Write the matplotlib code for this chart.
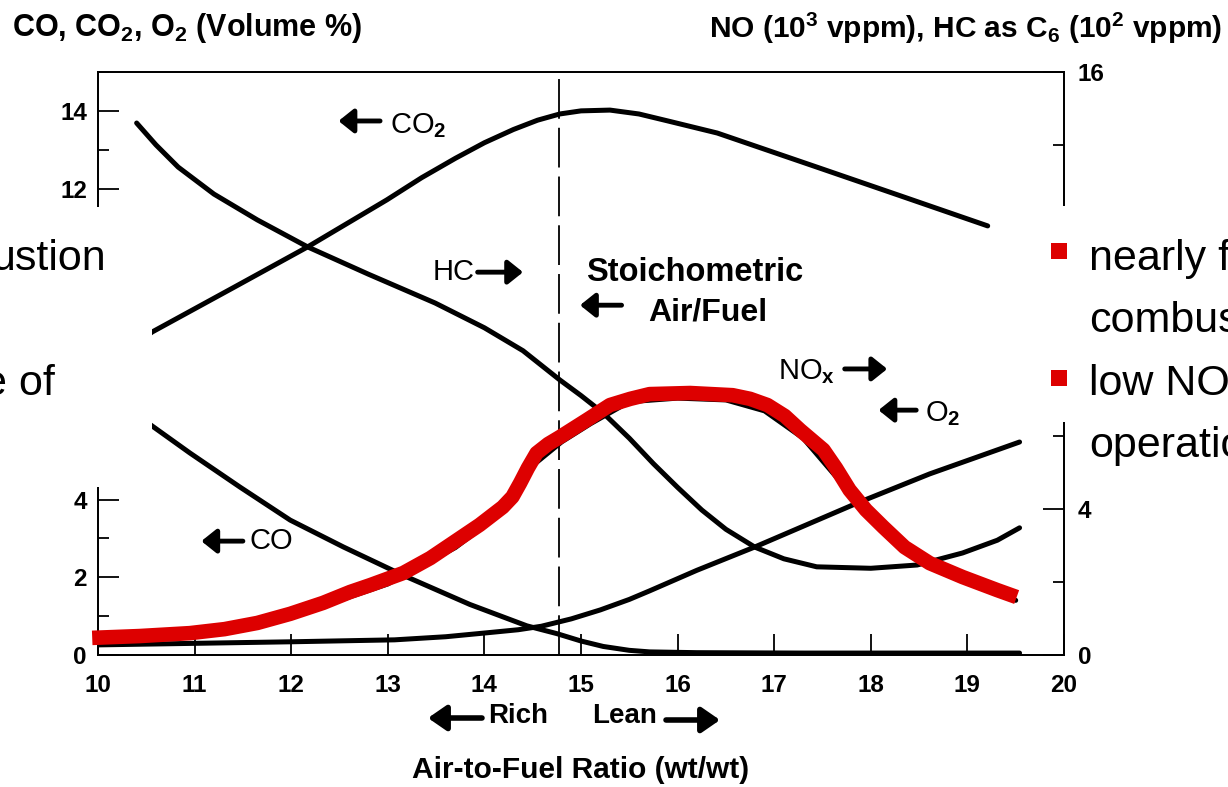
import matplotlib
matplotlib.use('Agg')
import matplotlib.pyplot as plt
from matplotlib.patches import Rectangle
from matplotlib.ticker import MultipleLocator

# readings, x = air-to-fuel ratio (wt/wt)
# left axis: volume %
co_x = [10.5, 10.95, 11.47, 11.99, 12.54, 13.16, 13.85, 14.44, 14.75, 15.0, 15.23, 15.5, 15.71, 16.2, 17.3, 19.54]
co_y = [6.0, 5.2, 4.32, 3.47, 2.78, 2.05, 1.30, 0.75, 0.55, 0.36, 0.22, 0.12, 0.08, 0.06, 0.05, 0.05]

co2_x = [10.4, 10.56, 11.4, 12.17, 12.99, 13.35, 13.70, 14.0, 14.3, 14.55, 14.78, 15.0, 15.3,
         15.6, 15.9, 16.41, 17.41, 18.30, 19.21]
co2_y = [8.0, 8.31, 9.45, 10.50, 11.71, 12.28, 12.78, 13.18, 13.52, 13.76, 13.92, 14.0, 14.02,
         13.92, 13.74, 13.43, 12.58, 11.82, 11.04]

o2_x = [10.0, 11.0, 12.0, 13.07, 13.6, 14.02, 14.35, 14.59, 14.9, 15.2, 15.5, 15.71, 16.2, 16.80,
        17.86, 18.61, 19.54]
o2_y = [0.26, 0.30, 0.34, 0.39, 0.47, 0.57, 0.65, 0.74, 0.93, 1.16, 1.43, 1.65, 2.18, 2.78,
        3.91, 4.66, 5.48]

# right axis: NO in 10^3 vppm, HC in 10^2 vppm
hc_x = [10.40, 10.6, 10.83, 11.2, 11.65, 12.17, 12.8, 13.49, 14.0, 14.4, 14.78, 15.0, 15.23,
        15.5, 15.75, 16.0, 16.25, 16.5, 16.8, 17.1, 17.44, 18.0, 18.48, 18.95, 19.31, 19.54]
hc_y = [14.60, 14.0, 13.39, 12.65, 11.94, 11.20, 10.45, 9.66, 8.98, 8.35, 7.55, 7.12, 6.64,
        5.95, 5.25, 4.60, 3.98, 3.45, 2.96, 2.64, 2.42, 2.38, 2.47, 2.80, 3.15, 3.49]

no_x = [10.0, 11.0, 12.0, 13.0, 13.7, 14.2, 14.5, 14.8, 15.1, 15.5, 16.0, 16.5, 16.9, 17.3,
        17.8, 18.2, 18.6, 19.0, 19.5]
no_y = [0.42, 0.55, 1.05, 1.95, 2.95, 3.95, 5.2, 5.85, 6.35, 6.95, 7.05, 7.0, 6.7, 5.95,
        4.4, 3.3, 2.5, 2.0, 1.5]

# red hand-drawn overlay
red_x = [9.94, 10.43, 10.95, 11.31, 11.65, 11.99, 12.33, 12.61, 12.82, 13.16, 13.44, 13.67,
         13.95, 14.19, 14.29, 14.37, 14.45, 14.54, 14.66, 14.78, 15.06, 15.30, 15.51, 15.71,
         16.13, 16.57, 16.75, 16.93, 17.11, 17.27, 17.39, 17.51, 17.64, 17.78, 17.95, 18.13,
         18.35, 18.61, 18.95, 19.31, 19.51]
red_y = [0.47, 0.52, 0.60, 0.71, 0.88, 1.13, 1.43, 1.73, 1.92, 2.25, 2.66, 3.07,
         3.57, 4.06, 4.34, 4.72, 5.13, 5.54, 5.79, 5.98, 6.45, 6.86, 7.03, 7.16,
         7.19, 7.13, 7.03, 6.86, 6.56, 6.17, 5.90, 5.63, 5.13, 4.53, 3.98, 3.51,
         2.96, 2.52, 2.14, 1.78, 1.59]

stoich = 14.77

left_ticks = [0, 2, 4, 6, 8, 10, 12, 14]
left_labels = ['0', '2', '4', '', '', '', '12', '14']  # 6-10 sit under the pasted panel
right_ticks = [0, 4, 8, 12, 16]
right_labels = ['0', '4', '', '', '16']
x_ticks = list(range(10, 21))

plt.rcParams['font.family'] = ['Liberation Sans', 'DejaVu Sans']
plt.rcParams['font.weight'] = 'bold'
plt.rcParams['mathtext.fontset'] = 'custom'
plt.rcParams['mathtext.rm'] = 'Liberation Sans'
plt.rcParams['mathtext.bf'] = 'Liberation Sans:bold'
plt.rcParams['mathtext.it'] = 'Liberation Sans:italic'

W, H = 1228, 787
fig = plt.figure(figsize=(W / 100, H / 100), dpi=100)


def fx(px):
    return px / W


def fy(py):
    return 1 - py / H


ax = fig.add_axes([fx(98), fy(655), (1064 - 98) / W, (655 - 72) / H])
ax2 = ax.twinx()

lw = 3.6
ax.plot(co_x, co_y, color='black', lw=lw, solid_capstyle='round', solid_joinstyle='round')
ax.plot(co2_x, co2_y, color='black', lw=lw, solid_capstyle='round', solid_joinstyle='round')
ax.plot(o2_x, o2_y, color='black', lw=lw, solid_capstyle='round', solid_joinstyle='round')
ax.axvline(stoich, color='black', lw=1.3, linestyle=(0, (22, 5)))

ax2.plot(hc_x, hc_y, color='black', lw=lw, solid_capstyle='round', solid_joinstyle='round')
ax2.plot(no_x, no_y, color='black', lw=lw, solid_capstyle='round', solid_joinstyle='round')
ax2.plot(red_x, red_y, color='#dd0000', lw=10.5, solid_capstyle='butt',
         solid_joinstyle='round', clip_on=False, zorder=5)

ax.set_xlim(10, 20)
ax.set_ylim(0, 15)
ax2.set_ylim(0, 16)
ax.set_xticks(x_ticks)
ax.set_yticks(left_ticks)
ax.set_yticklabels(left_labels)
ax.yaxis.set_minor_locator(MultipleLocator(1))
ax2.set_yticks(right_ticks)
ax2.set_yticklabels(right_labels)
ax2.yaxis.set_minor_locator(MultipleLocator(2))

for a in (ax, ax2):
    for sp in a.spines.values():
        sp.set_linewidth(1.3)
ax.tick_params(axis='both', which='major', direction='in', length=15, width=1.3,
               labelsize=17.5)
ax.tick_params(axis='y', which='minor', direction='in', length=8, width=1.3)
ax.tick_params(axis='x', which='major', pad=14)
ax.tick_params(axis='y', which='major', pad=8)
ax2.tick_params(axis='y', which='major', direction='in', length=15, width=1.3,
                labelsize=17.5, pad=10)
ax2.tick_params(axis='y', which='minor', direction='in', length=8, width=1.3)

# axis titles
fig.text(fx(12), fy(28), r'CO, CO$_\mathbf{2}$, O$_\mathbf{2}$ (Volume %)',
         fontsize=22, ha='left', va='center')
fig.text(fx(1222), fy(28), r'NO (10$^\mathbf{3}$ vppm), HC as C$_\mathbf{6}$ (10$^\mathbf{2}$ vppm)',
         fontsize=21.5, ha='right', va='center')
fig.text(fx(581), fy(770), 'Air-to-Fuel Ratio (wt/wt)', fontsize=21.5, ha='center', va='center')
fig.text(fx(488), fy(716), 'Rich', fontsize=20, ha='left', va='center')
fig.text(fx(592), fy(716), 'Lean', fontsize=20, ha='left', va='center')

arrow = dict(arrowstyle='-|>,head_length=0.55,head_width=0.38', lw=4, color='black',
             mutation_scale=20, shrinkA=0, shrinkB=0)
ax.annotate('', xy=(fx(428), fy(718)), xytext=(fx(482), fy(718)),
            xycoords='figure fraction', textcoords='figure fraction',
            arrowprops=arrow, annotation_clip=False)
ax.annotate('', xy=(fx(720), fy(720)), xytext=(fx(666), fy(720)),
            xycoords='figure fraction', textcoords='figure fraction',
            arrowprops=arrow, annotation_clip=False)

# curve labels (left axis data units)
small = dict(arrowstyle='-|>,head_length=0.5,head_width=0.4', lw=3.5, color='black',
             mutation_scale=18, shrinkA=0, shrinkB=0)
ax.annotate('', xy=(12.49, 13.74), xytext=(12.92, 13.74), arrowprops=small)
ax.text(13.02, 13.62, 'CO$_2$', fontsize=21, fontweight='normal', va='center')
ax.text(13.46, 9.85, 'HC', fontsize=21, fontweight='normal', va='center')
ax.annotate('', xy=(14.40, 9.85), xytext=(13.93, 9.85), arrowprops=small)
ax.text(16.18, 9.85, 'Stoichometric', fontsize=23.5, ha='center', va='center')
ax.annotate('', xy=(14.99, 9.0), xytext=(15.42, 9.0), arrowprops=small)
ax.text(16.31, 8.80, 'Air/Fuel', fontsize=23, ha='center', va='center')
ax.text(17.04, 7.30, r'NO$_\mathrm{x}$', fontsize=21, fontweight='normal', va='center')
ax.annotate('', xy=(18.17, 7.36), xytext=(17.73, 7.36), arrowprops=small)
ax.annotate('', xy=(18.08, 6.30), xytext=(18.47, 6.30), arrowprops=small)
ax.text(18.56, 6.20, 'O$_2$', fontsize=21, fontweight='normal', va='center')
ax.annotate('', xy=(11.07, 2.93), xytext=(11.50, 2.93), arrowprops=small)
ax.text(11.57, 2.93, 'CO', fontsize=21, fontweight='normal', va='center')

# white panels pasted over the chart
fig.add_artist(Rectangle((0, fy(487)), fx(152), (487 - 207) / H, transform=fig.transFigure,
                         facecolor='white', edgecolor='none', zorder=10))
fig.add_artist(Rectangle((fx(1030), fy(422)), 1 - fx(1030), (422 - 206) / H,
                         transform=fig.transFigure, facecolor='white', edgecolor='none',
                         zorder=10))

fig.text(fx(106), fy(270), 'ustion', fontsize=31, fontweight='normal',
         ha='right', va='baseline', zorder=11)
fig.text(fx(55), fy(395), 'e of', fontsize=31, fontweight='normal',
         ha='right', va='baseline', zorder=11)
right_lines = ['nearly full', 'combustion', 'low NOx', 'operation']
right_base = [270, 332, 395, 457]
for txt, base in zip(right_lines, right_base):
    fig.text(fx(1089), fy(base), txt, fontsize=31, fontweight='normal',
             ha='left', va='baseline', zorder=11)
for cy in (251, 378):
    fig.add_artist(Rectangle((fx(1051), fy(cy + 8)), 16 / W, 16 / H, transform=fig.transFigure,
                             facecolor='#dd0000', edgecolor='none', zorder=11))

fig.savefig('out.png', dpi=100)
